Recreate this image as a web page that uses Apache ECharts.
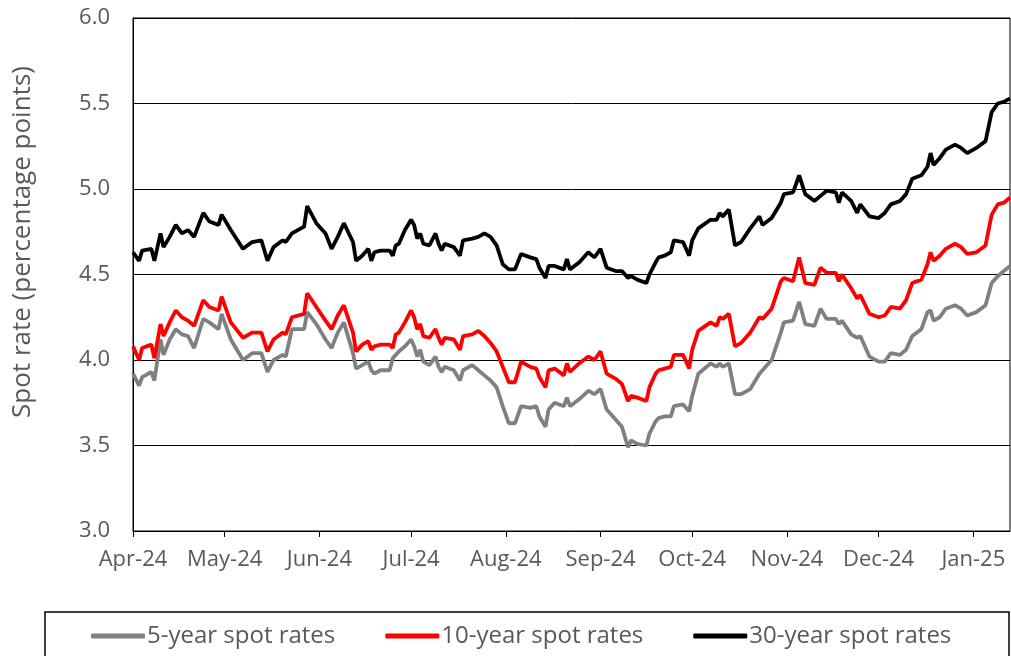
<!DOCTYPE html>
<html>
<head>
<meta charset="utf-8">
<script src="https://cdn.jsdelivr.net/npm/echarts@6/dist/echarts.min.js"></script>
<style>
  html, body { margin: 0; padding: 0; background: #fff; }
  #chart { width: 1011px; height: 656px; }
</style>
</head>
<body>
<div id="chart"></div>
<script>
  // days counted from 1 Apr 2024
  const days = [0,2,3,6,7,9,10,12,14,16,
    18,20,23,25,28,29,32,36,39,42,
    44,46,49,50,52,56,57,60,63,65,
    67,69,72,73,75,77,78,79,81,84,
    85,86,87,89,91,92,93,94,95,97,
    99,100,101,102,105,107,108,111,113,115,
    117,119,121,123,125,127,130,132,133,135,
    136,138,141,142,143,146,149,151,153,155,
    158,160,162,163,165,168,169,171,172,174,
    176,177,180,182,183,185,189,191,192,193,
    195,197,199,202,205,206,209,212,213,216,
    218,220,223,225,227,230,231,232,235,237,
    238,241,244,246,248,251,253,255,258,260,
    261,262,264,266,269,271,273,276,279,281,
    283,285,287]

  const rate5 = [3.92,3.85,3.90,3.93,3.88,4.12,4.03,4.12,4.18,4.15,
    4.14,4.07,4.24,4.22,4.18,4.27,4.12,4.00,4.04,4.04,
    3.93,4.00,4.03,4.02,4.18,4.18,4.28,4.21,4.12,4.07,
    4.16,4.22,4.04,3.95,3.97,3.99,3.94,3.92,3.94,3.94,
    4.01,4.03,4.05,4.08,4.12,4.08,4.02,4.06,3.99,3.97,
    4.02,3.96,3.93,3.96,3.94,3.88,3.94,3.97,3.94,3.91,
    3.88,3.84,3.73,3.63,3.63,3.73,3.72,3.73,3.67,3.61,
    3.71,3.75,3.73,3.78,3.73,3.77,3.82,3.80,3.83,3.71,
    3.65,3.61,3.49,3.53,3.51,3.50,3.57,3.64,3.66,3.67,
    3.67,3.73,3.74,3.70,3.79,3.92,3.98,3.96,3.98,3.96,
    3.98,3.80,3.80,3.83,3.92,3.94,4.00,4.16,4.22,4.23,
    4.34,4.21,4.20,4.30,4.24,4.24,4.21,4.23,4.15,4.13,
    4.14,4.02,3.99,3.99,4.04,4.03,4.06,4.14,4.18,4.28,
    4.29,4.23,4.25,4.30,4.32,4.30,4.26,4.28,4.32,4.45,
    4.49,4.52,4.55]

  const rate10 = [4.08,4.00,4.07,4.09,4.01,4.21,4.14,4.22,4.29,4.25,
    4.23,4.20,4.35,4.31,4.29,4.37,4.22,4.13,4.16,4.16,
    4.05,4.12,4.16,4.15,4.25,4.27,4.39,4.31,4.23,4.18,
    4.26,4.32,4.16,4.05,4.09,4.11,4.06,4.08,4.09,4.09,
    4.07,4.15,4.16,4.22,4.29,4.25,4.18,4.21,4.14,4.13,
    4.18,4.13,4.09,4.13,4.12,4.06,4.14,4.15,4.17,4.14,
    4.10,4.05,3.96,3.87,3.87,3.99,3.96,3.95,3.90,3.84,
    3.94,3.95,3.91,3.98,3.93,3.98,4.02,4.00,4.05,3.92,
    3.89,3.86,3.76,3.79,3.78,3.76,3.84,3.92,3.94,3.95,
    3.96,4.03,4.03,3.95,4.06,4.17,4.22,4.20,4.25,4.24,
    4.27,4.08,4.10,4.16,4.25,4.24,4.30,4.46,4.48,4.46,
    4.60,4.45,4.44,4.54,4.51,4.51,4.46,4.50,4.42,4.36,
    4.38,4.27,4.25,4.26,4.31,4.30,4.35,4.45,4.47,4.56,
    4.63,4.58,4.61,4.65,4.68,4.66,4.62,4.63,4.67,4.85,
    4.91,4.92,4.95]

  const rate30 = [4.63,4.58,4.64,4.65,4.58,4.74,4.66,4.72,4.79,4.74,
    4.76,4.72,4.86,4.81,4.79,4.85,4.76,4.65,4.69,4.70,
    4.58,4.66,4.70,4.69,4.74,4.78,4.90,4.80,4.74,4.65,
    4.72,4.80,4.69,4.58,4.61,4.65,4.58,4.63,4.64,4.64,
    4.61,4.67,4.68,4.76,4.82,4.79,4.71,4.74,4.68,4.67,
    4.74,4.68,4.64,4.68,4.66,4.61,4.70,4.71,4.72,4.74,
    4.72,4.67,4.56,4.53,4.53,4.62,4.60,4.59,4.54,4.48,
    4.55,4.55,4.53,4.59,4.53,4.57,4.63,4.60,4.65,4.54,
    4.52,4.52,4.48,4.49,4.47,4.45,4.50,4.57,4.60,4.61,
    4.63,4.70,4.69,4.61,4.70,4.77,4.82,4.82,4.86,4.84,
    4.88,4.67,4.69,4.77,4.84,4.79,4.83,4.92,4.97,4.98,
    5.08,4.97,4.93,4.96,4.99,4.98,4.92,4.98,4.93,4.86,
    4.91,4.84,4.83,4.86,4.91,4.93,4.97,5.06,5.08,5.13,
    5.21,5.14,5.18,5.23,5.26,5.24,5.21,5.24,5.28,5.45,
    5.50,5.51,5.53]

  const monthStarts = [0,30,61,91,122,153,183,214,244,275]
  const monthLabels = ['Apr-24','May-24','Jun-24','Jul-24','Aug-24','Sep-24','Oct-24','Nov-24','Dec-24','Jan-25']

  const font = 'Open Sans'
  const textGrey = '#595959'

  const pairs = arr => days.map((d, i) => [d, arr[i]])

  const myChart = echarts.init(document.getElementById('chart'))

  const option = {
    animation: false,
    grid: {
      left: 133,
      right: 1,
      top: 18,
      bottom: 125,
      show: true,
      borderColor: '#000',
      borderWidth: 1
    },
    legend: {
      left: 91,
      top: 624,
      padding: 0,
      data: ['5-year spot rates', '10-year spot rates', '30-year spot rates'],
      icon: 'roundRect',
      itemWidth: 54,
      itemHeight: 5,
      itemGap: 50,
      textStyle: {
        color: textGrey,
        fontSize: 24,
        fontFamily: font,
        padding: [0, 0, 0, -3]
      }
    },
    graphic: [
      {
        // legend frame, open at the bottom edge of the picture
        type: 'rect',
        shape: { x: 45, y: 612, width: 964, height: 60 },
        style: { fill: 'none', stroke: '#000', lineWidth: 1.5 },
        silent: true
      },
      {
        type: 'text',
        x: 23,
        y: 242,
        rotation: Math.PI / 2,
        style: {
          text: 'Spot rate (percentage points)',
          fill: textGrey,
          font: '26px "Open Sans"',
          textAlign: 'center',
          textVerticalAlign: 'middle'
        }
      }
    ],
    xAxis: {
      type: 'value',
      min: 0,
      max: 287,
      axisLine: { show: true, lineStyle: { color: '#000', width: 1 } },
      axisTick: {
        show: true,
        length: 6,
        customValues: monthStarts,
        lineStyle: { color: '#000' }
      },
      axisLabel: {
        customValues: monthStarts,
        formatter: v => monthLabels[monthStarts.indexOf(v)],
        color: textGrey,
        fontSize: 22,
        fontFamily: font,
        margin: 18
      },
      splitLine: { show: false }
    },
    yAxis: {
      type: 'value',
      min: 3,
      max: 6,
      interval: 0.5,
      axisLine: { show: true, lineStyle: { color: '#000', width: 1 } },
      axisTick: { show: false },
      axisLabel: {
        formatter: v => v.toFixed(1),
        color: textGrey,
        fontSize: 22,
        fontFamily: font,
        margin: 23
      },
      splitLine: { show: true, lineStyle: { color: '#000', width: 1 } }
    },
    series: [
      {
        name: '5-year spot rates',
        type: 'line',
        showSymbol: false,
        color: '#808080',
        lineStyle: { width: 3.8, color: '#808080' },
        data: pairs(rate5)
      },
      {
        name: '10-year spot rates',
        type: 'line',
        showSymbol: false,
        color: '#ff0000',
        lineStyle: { width: 3.8, color: '#ff0000' },
        data: pairs(rate10)
      },
      {
        name: '30-year spot rates',
        type: 'line',
        showSymbol: false,
        color: '#000000',
        lineStyle: { width: 3.8, color: '#000000' },
        data: pairs(rate30)
      }
    ]
  }

  myChart.setOption(option)
</script>
</body>
</html>
